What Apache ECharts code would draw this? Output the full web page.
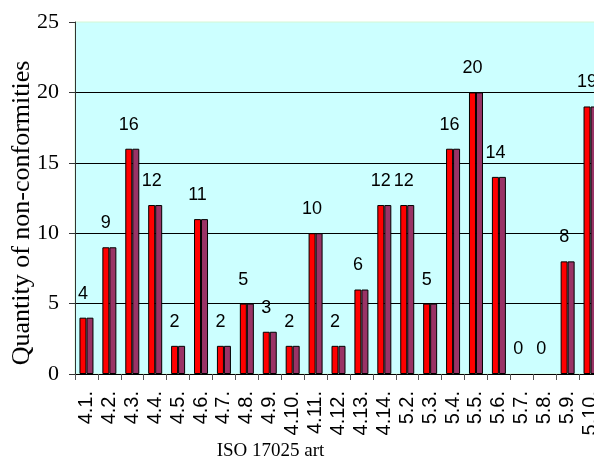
<!DOCTYPE html>
<html>
<head>
<meta charset="utf-8">
<script src="https://cdn.jsdelivr.net/npm/echarts@6/dist/echarts.min.js"></script>
<style>
  html, body { margin: 0; padding: 0; background: #ffffff; }
  #chart { width: 594px; height: 464px; }
</style>
</head>
<body>
<div id="chart"></div>
<script>
// ISO 17025 articles and the number of non-conformities found for each
const articles = ['4.1.', '4.2.', '4.3.', '4.4.', '4.5.', '4.6.', '4.7.', '4.8.', '4.9.', '4.10.',
  '4.11.', '4.12.', '4.13.', '4.14.', '5.2.', '5.3.', '5.4.', '5.5.', '5.6.', '5.7.', '5.8.', '5.9.', '5.10.'];
const nonConformities = [4, 9, 16, 12, 2, 11, 2, 5, 3, 2, 10, 2, 6, 12, 12, 5, 16, 20, 14, 0, 0, 8, 19];
const yTicks = { min: 0, max: 25, interval: 5 };

const chart = echarts.init(document.getElementById('chart'), null, { renderer: 'canvas' });

const serif = '"Liberation Serif", "Times New Roman", serif';
const sans = '"Liberation Sans", Arial, sans-serif';

// empty articles get no visible column outline
const columnData = (color) => nonConformities.map((v) => ({
  value: v,
  itemStyle: { color: color, borderColor: v === 0 ? 'rgba(0,0,0,0)' : '#000', borderWidth: 1 }
}));

chart.setOption({
  animation: false,
  backgroundColor: '#ffffff',
  grid: {
    show: true,
    left: 75,
    top: 22,
    width: 527,
    bottom: 90,
    outerBoundsMode: 'none',
    containLabel: false,
    backgroundColor: '#ccffff',
    borderColor: '#d4f7d4',
    borderWidth: 1
  },
  xAxis: {
    type: 'category',
    data: articles,
    name: 'ISO 17025 art',
    nameLocation: 'middle',
    nameGap: 68,
    nameMoveOverlap: false,
    nameTextStyle: { fontFamily: serif, fontSize: 19, color: '#000', padding: [0, 136, 0, 0] },
    axisLine: { lineStyle: { color: '#000', width: 1 } },
    axisTick: { show: true, length: 6, lineStyle: { color: '#555' } },
    axisLabel: { rotate: 90, margin: 17, fontFamily: sans, fontSize: 20, color: '#000', interval: 0 },
    splitLine: { show: false }
  },
  yAxis: {
    type: 'value',
    min: yTicks.min,
    max: yTicks.max,
    interval: yTicks.interval,
    name: 'Quantity of non-conformities',
    nameLocation: 'middle',
    nameGap: 40,
    nameMoveOverlap: false,
    nameTextStyle: { fontFamily: serif, fontSize: 26, color: '#000', padding: [0, 30, 0, 0] },
    axisLine: { show: true, lineStyle: { color: '#333', width: 1 } },
    axisTick: { show: true, inside: false, length: 6, lineStyle: { color: '#333' } },
    axisLabel: { margin: 16, fontFamily: serif, fontSize: 22, color: '#000' },
    splitLine: { show: true, showMaxLine: false, lineStyle: { color: '#000', width: 1 } }
  },
  series: [
    {
      name: 'front',
      type: 'bar',
      data: columnData('#ff0000'),
      barWidth: 7,
      barGap: '0%',
      label: {
        show: true,
        position: 'top',
        distance: 15,
        fontFamily: sans,
        fontSize: 18,
        color: '#000'
      }
    },
    {
      name: 'side',
      type: 'bar',
      data: columnData('#993366'),
      barWidth: 7,
      barGap: '0%'
    }
  ]
});
</script>
</body>
</html>
